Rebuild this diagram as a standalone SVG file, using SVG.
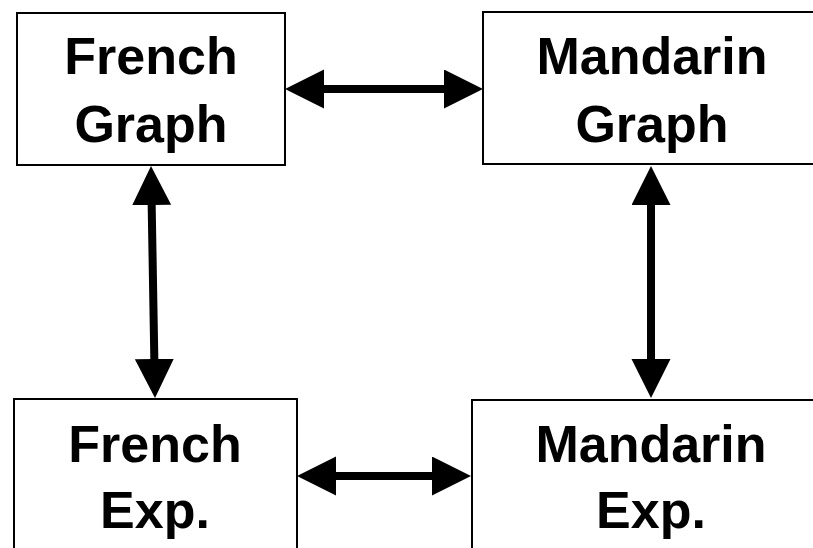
<svg xmlns="http://www.w3.org/2000/svg" width="813" height="548" viewBox="0 0 813 548">
<style>
.box{fill:#fff;stroke:#000;stroke-width:2}
.lbl{font-family:"Liberation Sans",Arial,sans-serif;font-weight:bold;font-size:52px;fill:#000;text-anchor:middle}
.conn{stroke:#000;stroke-width:8;fill:none;marker-start:url(#ah);marker-end:url(#ah)}
</style>
<defs>
<marker id="ah" markerUnits="userSpaceOnUse" markerWidth="40" markerHeight="40" viewBox="0 0 40 40" refX="1" refY="19.5" orient="auto-start-reverse">
<path d="M0,0 L39,19.5 L0,39 z" fill="#000"/>
</marker>
</defs>
<rect width="813" height="548" fill="#fff"/>
<g id="french-graph">
<rect class="box" x="17" y="13" width="268" height="152"/>
<text class="lbl" x="151" y="74">French</text>
<text class="lbl" x="151" y="142">Graph</text>
</g>
<g id="mandarin-graph">
<rect class="box" x="483" y="12" width="340" height="152"/>
<text class="lbl" x="652" y="74">Mandarin</text>
<text class="lbl" x="652" y="142">Graph</text>
</g>
<g id="french-exp">
<rect class="box" x="14" y="399" width="283" height="170"/>
<text class="lbl" x="155" y="462">French</text>
<text class="lbl" x="155" y="528">Exp.</text>
</g>
<g id="mandarin-exp">
<rect class="box" x="472" y="400" width="360" height="170"/>
<text class="lbl" x="651" y="462">Mandarin</text>
<text class="lbl" x="651" y="528">Exp.</text>
</g>
<g id="connectors">
<line class="conn" x1="323" y1="89" x2="445" y2="89"/>
<line class="conn" x1="335" y1="476" x2="433" y2="476"/>
<line class="conn" x1="151.65" y1="204" x2="154.35" y2="360"/>
<line class="conn" x1="651" y1="204" x2="651" y2="360"/>
</g>
</svg>
